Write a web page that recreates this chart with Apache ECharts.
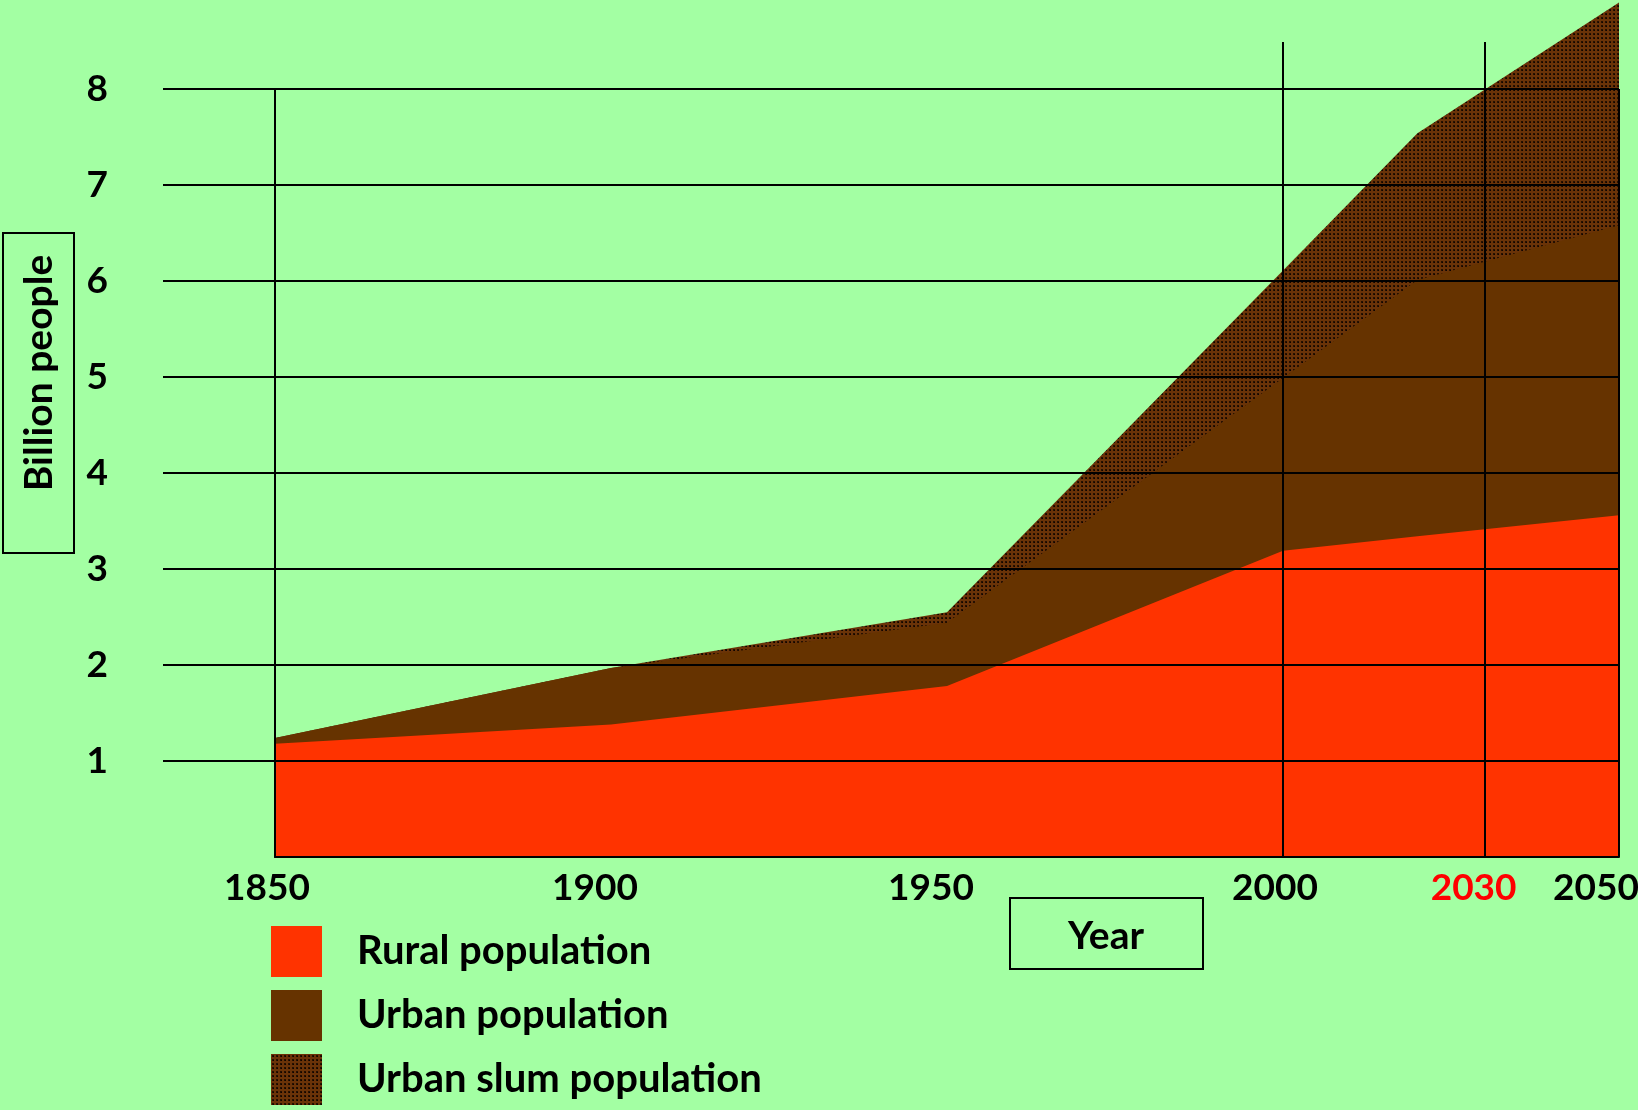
<!DOCTYPE html>
<html>
<head>
<meta charset="utf-8">
<title>World population: rural, urban and urban slum</title>
<script src="https://cdn.jsdelivr.net/npm/echarts@6/dist/echarts.min.js"></script>
<style>
  html, body { margin: 0; padding: 0; background: #A3FFA3; }
  #chart { width: 1638px; height: 1110px; }
</style>
</head>
<body>
<div id="chart"></div>
<script>
// Population in billions, by component
const years = [1850, 1900, 1950, 2000, 2020, 2050];
const rural = [1.18, 1.38, 1.78, 3.19, 3.34, 3.56];
const urban = [0.06, 0.59, 0.66, 1.80, 2.67, 3.02];
const slum  = [0.00, 0.00, 0.11, 1.12, 1.53, 2.32];

// Axis ticks
const yearTicks = [1850, 1900, 1950, 2000, 2030, 2050];
const valueTicks = [1, 2, 3, 4, 5, 6, 7, 8];
const frameYears = [1850, 2000, 2030, 2050];
const markerYears = [2000, 2030];

const seriesNames = ['Rural population', 'Urban population', 'Urban slum population'];

const FONT = 'Lato';
const RED = '#FF3300';
const BROWN = '#663300';

// Dotted fill for the slum band
function makeDotPattern() {
  const c = document.createElement('canvas');
  c.width = 4; c.height = 4;
  const g = c.getContext('2d');
  g.fillStyle = '#6a3308';
  g.fillRect(0, 0, 4, 4);
  g.fillStyle = '#261000';
  g.fillRect(1, 1, 2, 2);
  g.fillStyle = '#0e0400';
  g.fillRect(2, 2, 1, 1);
  return { image: c, repeat: 'repeat' };
}
const dots = makeDotPattern();

// Cumulative tops so each band is drawn down to zero, back to front
const urbanTop = rural.map((v, i) => +(v + urban[i]).toFixed(3));
const slumTop = urbanTop.map((v, i) => +(v + slum[i]).toFixed(3));
const pairs = arr => years.map((y, i) => [y, arr[i]]);

// Horizontal nudges for year labels (pixels of right padding)
const labelNudge = { 1850: 16, 1900: 32, 1950: 32, 2000: 16, 2030: 22, 2050: 46 };
const yearRich = {};
yearTicks.forEach(y => {
  yearRich['n' + y] = {
    fontFamily: FONT, fontWeight: 'bold', fontSize: 37, lineHeight: 40,
    color: y === 2030 ? '#FF0000' : '#000000',
    padding: [0, labelNudge[y], 0, 0]
  };
});

const lineStyle = { color: '#000', width: 2 };

const chart = echarts.init(document.getElementById('chart'), null, { renderer: 'canvas' });

const option = {
  backgroundColor: '#A3FFA3',
  animation: false,
  grid: {
    left: 275, right: 19, top: 89, bottom: 253,
    containLabel: false, outerBoundsMode: 'none'
  },
  xAxis: [
    {
      type: 'value', min: 1850, max: 2050, position: 'bottom', z: 5,
      axisLine: { show: true, onZero: false, lineStyle },
      axisTick: { show: false, customValues: frameYears },
      splitLine: { show: true, lineStyle },
      axisLabel: {
        customValues: yearTicks, margin: 11,
        formatter: v => '{n' + v + '|' + v + '}',
        rich: yearRich
      }
    },
    {
      // Marker lines for 2000 and 2030 rising above the frame
      type: 'value', min: 1850, max: 2050, position: 'top', z: 5,
      axisLine: { show: true, onZero: false, lineStyle: { color: '#000', width: 2, opacity: 0 } },
      axisTick: { show: true, customValues: markerYears, length: 47, inside: false, lineStyle },
      splitLine: { show: false },
      axisLabel: { show: true, customValues: markerYears, formatter: () => '', color: 'transparent' }
    }
  ],
  yAxis: {
    type: 'value', min: 0, max: 8, z: 5,
    axisLine: { show: true, onZero: false, lineStyle },
    axisTick: { show: true, customValues: valueTicks, length: 112, inside: false, lineStyle },
    splitLine: { show: true, lineStyle },
    axisLabel: {
      customValues: valueTicks, margin: 167,
      fontFamily: FONT, fontWeight: 'bold', fontSize: 37, color: '#000'
    }
  },
  legend: {
    orient: 'vertical', left: 271, top: 926, height: 184, padding: 0,
    itemWidth: 51, itemHeight: 51, itemGap: 13,
    textStyle: {
      fontFamily: FONT, fontWeight: 'bold', fontSize: 40, color: '#000',
      padding: [8, 0, -8, 30]
    },
    data: [
      { name: seriesNames[0], icon: 'rect', itemStyle: { color: RED, borderWidth: 0 } },
      { name: seriesNames[1], icon: 'rect', itemStyle: { color: BROWN, borderWidth: 0 } },
      { name: seriesNames[2], icon: 'rect', itemStyle: { color: dots, borderWidth: 0 } }
    ]
  },
  series: [
    {
      name: seriesNames[2], type: 'line', data: pairs(slumTop),
      symbol: 'none', clip: false, silent: true,
      lineStyle: { width: 0 }, itemStyle: { color: BROWN },
      areaStyle: { color: dots, opacity: 1 }
    },
    {
      name: seriesNames[1], type: 'line', data: pairs(urbanTop),
      symbol: 'none', clip: false, silent: true,
      lineStyle: { width: 0 }, itemStyle: { color: BROWN },
      areaStyle: { color: BROWN, opacity: 1 }
    },
    {
      name: seriesNames[0], type: 'line', data: pairs(rural),
      symbol: 'none', clip: false, silent: true,
      lineStyle: { width: 0 }, itemStyle: { color: RED },
      areaStyle: { color: RED, opacity: 1 }
    }
  ],
  graphic: [
    { type: 'rect', z: 10, shape: { x: 3, y: 233, width: 71, height: 320 },
      style: { fill: 'transparent', stroke: '#000', lineWidth: 2 } },
    { type: 'text', z: 10, x: 39, y: 373, rotation: Math.PI / 2,
      style: { text: 'Billion people', fontFamily: FONT, fontWeight: 'bold', fontSize: 39,
               fill: '#000', align: 'center', verticalAlign: 'middle' } },
    { type: 'rect', z: 10, shape: { x: 1010, y: 898, width: 193, height: 71 },
      style: { fill: 'transparent', stroke: '#000', lineWidth: 2 } },
    { type: 'text', z: 10, x: 1106, y: 936,
      style: { text: 'Year', fontFamily: FONT, fontWeight: 'bold', fontSize: 39,
               fill: '#000', align: 'center', verticalAlign: 'middle' } }
  ]
};

chart.setOption(option);
</script>
</body>
</html>
